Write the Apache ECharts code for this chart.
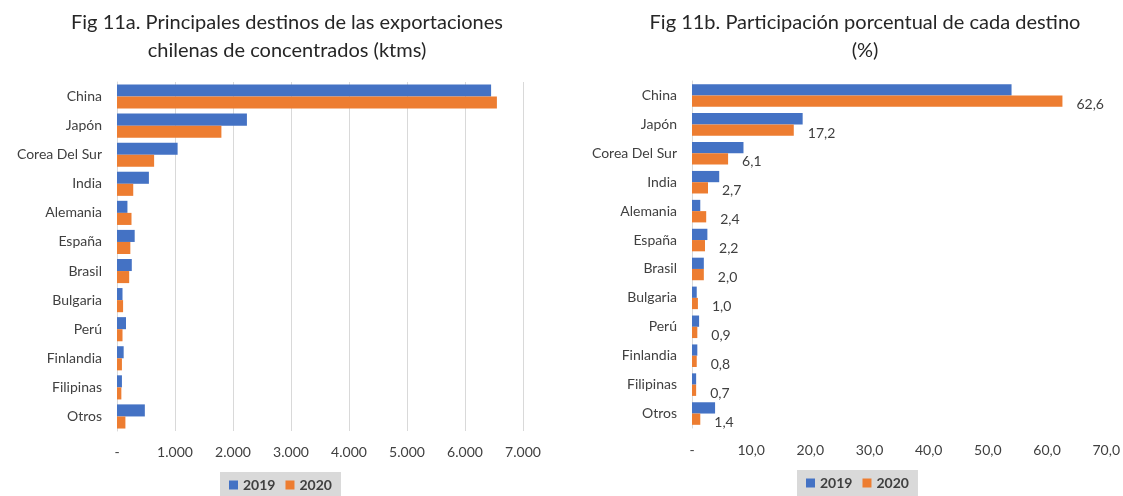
<!DOCTYPE html>
<html>
<head>
<meta charset="utf-8">
<script src="https://cdn.jsdelivr.net/npm/echarts@6/dist/echarts.min.js"></script>
<style>
  html, body { margin: 0; padding: 0; background: #ffffff; }
  #chart { width: 1123px; height: 496px; }
</style>
</head>
<body>
<div id="chart"></div>
<script>
// Destinos de exportación de concentrados
const categories = ['China', 'Japón', 'Corea Del Sur', 'India', 'Alemania', 'España', 'Brasil', 'Bulgaria', 'Perú', 'Finlandia', 'Filipinas', 'Otros'];

// Volumen exportado (ktms)
const ktms2019 = [6450, 2240, 1045, 550, 180, 305, 255, 95, 155, 115, 85, 480];
const ktms2020 = [6550, 1800, 640, 280, 250, 230, 210, 105, 95, 85, 75, 145];

// Participación porcentual (%)
const share2019 = [54.0, 18.7, 8.7, 4.6, 1.4, 2.6, 2.0, 0.8, 1.2, 0.9, 0.7, 3.9];
const share2020 = [62.6, 17.2, 6.1, 2.7, 2.4, 2.2, 2.0, 1.0, 0.9, 0.8, 0.7, 1.4];

const years = ['2019', '2020'];
const titleA = 'Fig 11a. Principales destinos de las exportaciones\nchilenas de concentrados (ktms)';
const titleB = 'Fig 11b. Participación porcentual de cada destino\n(%)';

const BLUE = '#4472C4';
const ORANGE = '#ED7D31';
const FONT = 'Lato, "Open Sans", sans-serif';
const TXT = '#404040';

const fmtThousands = v => v === 0 ? '-' : String(v).replace(/\B(?=(\d{3})+(?!\d))/g, '.');
const fmtDecimal = v => v === 0 ? '-' : v.toFixed(1).replace('.', ',');

const chart = echarts.init(document.getElementById('chart'), null, { renderer: 'canvas' });

const catAxis = (gridIndex) => ({
  type: 'category',
  gridIndex,
  data: categories,
  inverse: true,
  axisLine: { show: true, lineStyle: { color: '#d9d9d9', width: 1 } },
  axisTick: { show: false },
  axisLabel: { color: TXT, fontFamily: FONT, fontSize: 14, margin: 15 }
});

const legendCommon = {
  data: years,
  orient: 'horizontal',
  icon: 'rect',
  itemWidth: 9,
  itemHeight: 9,
  itemGap: 10,
  backgroundColor: '#d9d9d9',
  padding: [6, 9, 8, 9],
  textStyle: { color: TXT, fontFamily: FONT, fontSize: 14, fontWeight: 'bold' },
  selectedMode: false
};

const titleStyle = { color: '#262626', fontFamily: FONT, fontSize: 20, fontWeight: 'normal', lineHeight: 28 };

chart.setOption({
  animation: false,
  backgroundColor: '#ffffff',
  textStyle: { fontFamily: FONT },
  title: [
    { text: titleA, left: 282, top: 4, textAlign: 'center', textStyle: titleStyle },
    { text: titleB, left: 860, top: 4, textAlign: 'center', textStyle: titleStyle }
  ],
  legend: [
    Object.assign({ left: 220, top: 472 }, legendCommon),
    Object.assign({ left: 797, top: 470 }, legendCommon)
  ],
  grid: [
    { left: 117, top: 82, width: 406, height: 349, containLabel: false },
    { left: 692, top: 81, width: 423, height: 347, containLabel: false }
  ],
  xAxis: [
    {
      type: 'value', gridIndex: 0, min: 0, max: 7000, interval: 1000,
      axisLine: { show: false }, axisTick: { show: false },
      splitLine: { show: true, lineStyle: { color: '#d9d9d9', width: 1 } },
      axisLabel: { color: TXT, fontFamily: FONT, fontSize: 14, margin: 14, formatter: fmtThousands }
    },
    {
      type: 'value', gridIndex: 1, min: 0, max: 70, interval: 10,
      axisLine: { show: false }, axisTick: { show: false },
      splitLine: { show: false },
      axisLabel: { color: TXT, fontFamily: FONT, fontSize: 14, margin: 15, formatter: fmtDecimal }
    }
  ],
  yAxis: [catAxis(0), catAxis(1)],
  series: [
    {
      name: years[0], type: 'bar', xAxisIndex: 0, yAxisIndex: 0,
      data: ktms2019, itemStyle: { color: BLUE },
      barGap: '0%', barCategoryGap: '17%'
    },
    {
      name: years[1], type: 'bar', xAxisIndex: 0, yAxisIndex: 0,
      data: ktms2020, itemStyle: { color: ORANGE },
      barGap: '0%', barCategoryGap: '17%'
    },
    {
      name: years[0], type: 'bar', xAxisIndex: 1, yAxisIndex: 1,
      data: share2019, itemStyle: { color: BLUE },
      barGap: '0%', barCategoryGap: '22%'
    },
    {
      name: years[1], type: 'bar', xAxisIndex: 1, yAxisIndex: 1,
      data: share2020, itemStyle: { color: ORANGE },
      barGap: '0%', barCategoryGap: '22%',
      label: {
        show: true, position: 'right', distance: 14, offset: [0, 3],
        color: TXT, fontFamily: FONT, fontSize: 14,
        formatter: p => fmtDecimal(p.value)
      }
    }
  ]
});
</script>
</body>
</html>
